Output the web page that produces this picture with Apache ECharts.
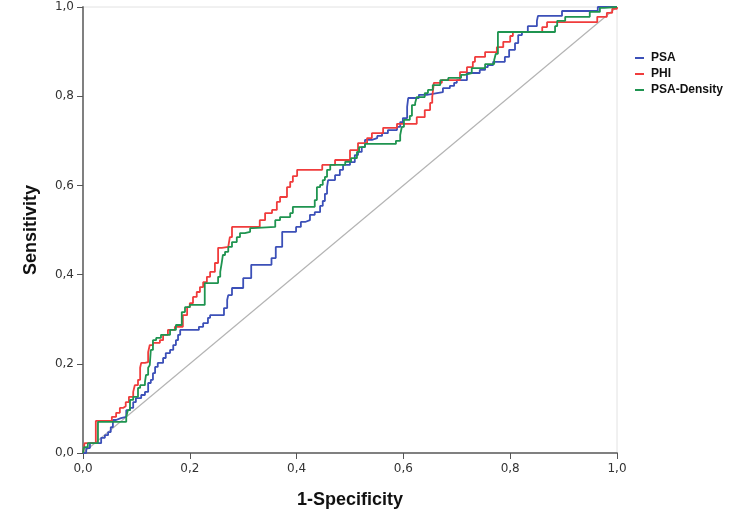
<!DOCTYPE html>
<html>
<head>
<meta charset="utf-8">
<script src="https://cdn.jsdelivr.net/npm/echarts@6/dist/echarts.min.js"></script>
<style>
html,body{margin:0;padding:0;background:#fff;}
#chart{width:748px;height:517px;}
</style>
</head>
<body>
<div id="chart"></div>
<script>
// Tick labels
const xTickLabels = ['0,0','0,2','0,4','0,6','0,8','1,0'];
const yTickLabels = ['0,0','0,2','0,4','0,6','0,8','1,0'];
const seriesNames = ['PSA','PHI','PSA-Density'];

// ROC step points [1-specificity, sensitivity]
const psaPoints = [
[0,0],[0.006,0.011],[0.013,0.022],[0.034,0.034],[0.041,0.040],[0.047,0.047],[0.052,0.058],[0.056,0.074],
[0.062,0.078],[0.071,0.081],[0.081,0.096],[0.088,0.101],[0.094,0.114],[0.099,0.123],[0.109,0.130],
[0.116,0.137],[0.122,0.157],[0.127,0.164],[0.131,0.179],[0.135,0.193],[0.140,0.202],[0.150,0.213],
[0.155,0.224],[0.163,0.231],[0.169,0.242],[0.174,0.253],[0.178,0.265],[0.182,0.276],[0.217,0.283],
[0.225,0.291],[0.234,0.303],[0.238,0.309],[0.264,0.325],[0.270,0.343],[0.272,0.354],[0.279,0.370],
[0.300,0.392],[0.315,0.422],[0.353,0.437],[0.361,0.462],[0.373,0.496],[0.399,0.507],[0.408,0.518],
[0.416,0.522],[0.425,0.534],[0.434,0.540],[0.444,0.554],[0.449,0.565],[0.453,0.581],[0.457,0.596],
[0.459,0.612],[0.472,0.623],[0.481,0.635],[0.487,0.646],[0.500,0.652],[0.509,0.668],[0.515,0.675],
[0.522,0.686],[0.528,0.702],[0.541,0.706],[0.551,0.711],[0.560,0.717],[0.571,0.724],[0.588,0.731],
[0.594,0.742],[0.599,0.751],[0.607,0.776],[0.609,0.796],[0.629,0.803],[0.644,0.807],[0.663,0.809],
[0.674,0.818],[0.687,0.823],[0.695,0.830],[0.700,0.836],[0.719,0.852],[0.743,0.859],[0.753,0.865],
[0.758,0.870],[0.768,0.877],[0.790,0.888],[0.798,0.904],[0.809,0.919],[0.815,0.937],[0.822,0.944],
[0.833,0.957],[0.850,0.969],[0.852,0.980],[0.897,0.991],[0.964,1.0],[1,1]
];
const phiPoints = [
[0,0],[0.003,0.022],[0.024,0.072],[0.054,0.081],[0.062,0.090],[0.069,0.101],[0.075,0.105],[0.080,0.114],
[0.086,0.126],[0.094,0.137],[0.097,0.152],[0.103,0.164],[0.107,0.191],[0.109,0.202],[0.116,0.204],
[0.122,0.226],[0.125,0.242],[0.131,0.247],[0.144,0.253],[0.150,0.265],[0.159,0.276],[0.172,0.283],
[0.187,0.309],[0.195,0.327],[0.200,0.336],[0.206,0.350],[0.213,0.361],[0.219,0.372],[0.225,0.383],
[0.232,0.395],[0.238,0.406],[0.247,0.426],[0.253,0.460],[0.260,0.462],[0.272,0.466],[0.275,0.484],
[0.279,0.507],[0.331,0.522],[0.341,0.538],[0.354,0.545],[0.363,0.563],[0.369,0.574],[0.382,0.596],
[0.388,0.608],[0.393,0.621],[0.401,0.635],[0.448,0.646],[0.472,0.657],[0.500,0.679],[0.515,0.695],
[0.532,0.706],[0.541,0.717],[0.562,0.729],[0.588,0.738],[0.625,0.753],[0.640,0.769],[0.650,0.785],
[0.654,0.798],[0.657,0.830],[0.672,0.836],[0.706,0.854],[0.719,0.865],[0.730,0.877],[0.734,0.888],
[0.753,0.899],[0.775,0.910],[0.787,0.922],[0.800,0.935],[0.805,0.944],[0.860,0.955],[0.869,0.966],
[0.963,0.978],[0.981,0.987],[0.991,0.996],[1,1]
];
const densityPoints = [
[0,0],[0.002,0.013],[0.009,0.022],[0.028,0.070],[0.081,0.081],[0.084,0.096],[0.088,0.119],[0.094,0.126],
[0.103,0.146],[0.107,0.152],[0.116,0.159],[0.118,0.175],[0.122,0.191],[0.125,0.197],[0.127,0.231],
[0.131,0.253],[0.137,0.258],[0.146,0.265],[0.163,0.276],[0.174,0.287],[0.185,0.316],[0.191,0.327],
[0.200,0.332],[0.228,0.381],[0.253,0.395],[0.257,0.406],[0.260,0.428],[0.262,0.444],[0.266,0.451],
[0.272,0.462],[0.279,0.473],[0.288,0.484],[0.294,0.493],[0.303,0.496],[0.313,0.504],[0.318,0.507],
[0.360,0.522],[0.369,0.529],[0.388,0.538],[0.393,0.552],[0.434,0.567],[0.438,0.596],[0.444,0.601],
[0.449,0.612],[0.453,0.619],[0.457,0.635],[0.463,0.646],[0.491,0.653],[0.502,0.661],[0.513,0.675],
[0.517,0.686],[0.528,0.693],[0.586,0.700],[0.594,0.713],[0.597,0.731],[0.601,0.747],[0.612,0.756],
[0.616,0.780],[0.622,0.785],[0.625,0.798],[0.640,0.807],[0.646,0.814],[0.655,0.825],[0.669,0.836],
[0.684,0.841],[0.708,0.848],[0.715,0.852],[0.728,0.863],[0.753,0.872],[0.770,0.881],[0.773,0.895],
[0.777,0.944],[0.884,0.957],[0.888,0.969],[0.903,0.978],[0.949,0.989],[0.968,0.998],[0.976,1.0],[1,1]
];
const diagonalPoints = [[0,0],[1,1]];

const colors = ['#3c50b8','#f03c3c','#1f9450'];

const chart = echarts.init(document.getElementById('chart'), null, {renderer:'canvas'});
const tickFmt = (arr) => (v) => { const i = Math.round(v/0.2); return arr[i] !== undefined ? arr[i] : ''; };

chart.setOption({
  animation: false,
  backgroundColor: '#fff',
  grid: {left: 83, top: 7, width: 534, height: 446, show: true, borderColor: '#e2e2e2', borderWidth: 1, backgroundColor: 'transparent'},
  legend: {
    orient: 'vertical', left: 630, top: 47, itemGap: 4,
    itemWidth: 9, itemHeight: 2, icon: 'rect',
    data: seriesNames,
    textStyle: {fontFamily: 'Liberation Sans, Arial, sans-serif', fontWeight: 'bold', fontSize: 12, color: '#111', padding: [0,0,0,2]}
  },
  xAxis: {
    type: 'value', min: 0, max: 1, interval: 0.2,
    name: '1-Specificity', nameLocation: 'middle', nameGap: 38,
    nameTextStyle: {fontFamily: 'Liberation Sans, Arial, sans-serif', fontWeight: 'bold', fontSize: 18, color: '#111'},
    axisLine: {show: true, lineStyle: {color: '#808080', width: 2}},
    axisTick: {show: true, length: 6, lineStyle: {color: '#555', width: 1}},
    axisLabel: {formatter: tickFmt(xTickLabels), margin: 10, fontFamily: 'DejaVu Sans, sans-serif', fontSize: 12, color: '#333'},
    splitLine: {show: false}
  },
  yAxis: {
    type: 'value', min: 0, max: 1, interval: 0.2,
    name: 'Sensitivity', nameLocation: 'middle', nameGap: 43,
    nameTextStyle: {fontFamily: 'Liberation Sans, Arial, sans-serif', fontWeight: 'bold', fontSize: 18, color: '#111'},
    axisLine: {show: true, lineStyle: {color: '#808080', width: 2}},
    axisTick: {show: true, length: 6, lineStyle: {color: '#555', width: 1}},
    axisLabel: {formatter: tickFmt(yTickLabels), margin: 9, fontFamily: 'DejaVu Sans, sans-serif', fontSize: 12, color: '#333'},
    splitLine: {show: false}
  },
  series: [
    {type: 'line', name: 'diag', data: diagonalPoints, showSymbol: false, silent: true,
     lineStyle: {color: '#b4b4b4', width: 1.2}, z: 1},
    {type: 'line', name: seriesNames[0], data: psaPoints, step: 'end', showSymbol: false,
     itemStyle: {color: colors[0]}, lineStyle: {color: colors[0], width: 1.8}, z: 2},
    {type: 'line', name: seriesNames[1], data: phiPoints, step: 'end', showSymbol: false,
     itemStyle: {color: colors[1]}, lineStyle: {color: colors[1], width: 1.8}, z: 3},
    {type: 'line', name: seriesNames[2], data: densityPoints, step: 'end', showSymbol: false,
     itemStyle: {color: colors[2]}, lineStyle: {color: colors[2], width: 1.8}, z: 4}
  ]
});
</script>
</body>
</html>
